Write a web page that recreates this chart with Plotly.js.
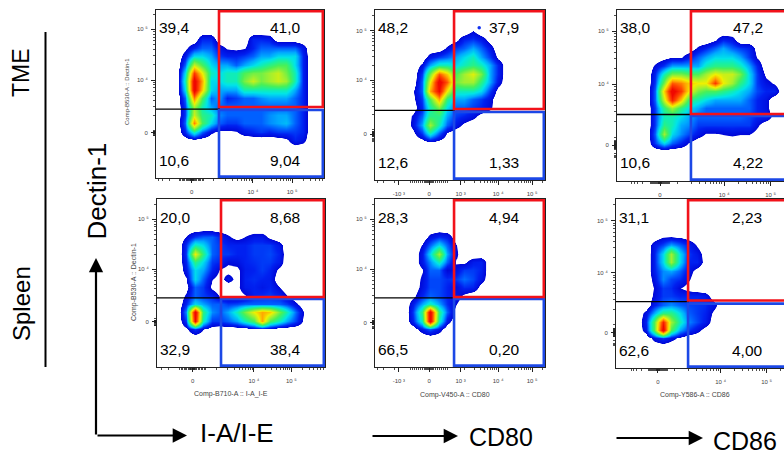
<!DOCTYPE html>
<html><head><meta charset="utf-8">
<script src="https://cdn.plot.ly/plotly-3.0.1.min.js"></script>
<style>html,body{margin:0;padding:0;background:#fff}#c{width:784px;height:456px}</style>
</head><body><div id="c"></div>
<script>
// Density grids: 20 columns x 20 rows, top row first, level 0 (no events) to 10 (peak)
const O = [0,0,0,0,0,0,0,0,0,0,0,0,0,0,0,0,0,0,0,0];
const densityTmeIA = [O,O,O,
[0,0,0,0,0,1,1,0,0,0,0,1,1,.9,0,0,0,0,0,0],
[0,0,0,.3,1,1.5,1.5,.8,.4,.3,.4,1,1.5,1.5,1.5,1.5,1.5,.8,0,0],
[0,0,0,.8,2.5,2.5,2,1.2,1,1,1.2,1.5,2,2,2.5,2.5,2.5,1,0,0],
[0,0,0,1.5,5.5,4,2.5,2,2,1.5,2,2.5,3,3.5,4,4,2.5,1,0,0],
[0,0,0,2.5,8.5,6,3,2.5,3,3,4,4.5,4.5,5,5.5,4.5,3,1,0,0],
[0,0,0,3,10,7,2.5,2.5,3,3,4.5,5.5,4.5,5,5.5,5,3,1,0,0],
[0,0,0,2.5,10,6.5,2.5,2,2,2,3,3,3,3,3,3,2,1,0,0],
[0,0,0,1.5,7.5,4,1.5,2,1,1.2,1.5,1.5,1.8,2,2,2,1.5,1,0,0],
[0,0,0,1.2,5,3,2,1.5,1.5,1.5,1.5,1.5,1.5,1.5,1.5,1.5,1.5,1,0,0],
[0,0,0,1.2,5.5,3.5,3,1.8,1.5,1.5,1.5,1.5,1.5,1.8,2,2,1.5,1,0,0],
[0,0,0,1.5,7.5,4,2.5,1.5,1.2,1.2,1.5,1.5,1.5,1.8,2,2.2,1.5,1,0,0],
[0,0,0,1,3,1.5,.6,.3,.3,.4,.8,1,1.2,1,1.2,1.2,1.2,1,0,0],
[0,0,0,.1,.2,.1,0,0,0,0,0,0,0,0,.1,.3,1,.7,0,0],
O,O,O,O];
const densityTmeCD80 = [O,O,
[0,0,0,0,0,0,0,0,0,0,0,.5,0,0,0,0,0,0,0,0],
[0,0,0,0,0,0,0,0,0,.3,1,1.2,.9,.2,0,0,0,0,0,0],
[0,0,0,0,0,0,0,0,.6,1.2,1.5,2,1.5,.8,0,0,0,0,0,0],
[0,0,0,0,0,0,.8,1.2,1.5,2,2.5,3,2,1.2,.3,0,0,0,0,0],
[0,0,0,0,0,.6,2,3,3,2.5,3,3.5,3,2,1,0,0,0,0,0],
[0,0,0,0,0,1.2,4.5,8,6.5,4,5,5.8,4.5,2,1,0,0,0,0,0],
[0,0,0,0,0,1.5,6,10,8,4.5,5,5,3.5,2,.8,0,0,0,0,0],
[0,0,0,0,.4,1.5,7,9.5,6,3,3,3,2.5,1.2,.2,0,0,0,0,0],
[0,0,0,0,.3,1.2,4,7,3.5,2,2,1.5,1.2,.7,0,0,0,0,0,0],
[0,0,0,0,.1,1,3,4.5,2.5,1.5,1.5,1.2,1,.6,0,0,0,0,0,0],
[0,0,0,0,.6,1.5,3.5,3.5,2,1.2,1,.7,.2,0,0,0,0,0,0,0],
[0,0,0,0,.7,2,5,3,1.5,.8,.3,0,0,0,0,0,0,0,0,0],
[0,0,0,0,.3,1.2,3,1.5,.4,0,0,0,0,0,0,0,0,0,0,0],
[0,0,0,0,0,.1,.4,.2,0,0,0,0,0,0,0,0,0,0,0,0],
O,O,O,O];
const densityTmeCD86 = [O,O,O,
[0,0,0,0,0,0,0,0,0,0,0,.4,1,.8,0,0,0,0,0,0],
[0,0,0,0,0,0,0,0,0,.6,1,1.5,2,1.5,1.2,1,.2,0,0,0],
[0,0,0,0,0,.2,.4,.4,.9,1.5,2,2.5,2.5,2.5,2,1.2,.4,0,0,0],
[0,0,0,0,.6,1.2,2,2,2,2,3,3.5,3.5,3.5,3,2,1,0,0,0],
[0,0,0,0,1,3,4.5,4.5,4,4,5,6,5.5,5.5,4.5,2.5,1.2,.3,0,0],
[0,0,0,0,1.2,4.5,8,7.5,6.5,6,6,8.5,6,5,3.5,2.5,1.2,.7,.4,0],
[0,0,0,0,1.5,6.5,10,8.5,6,4.5,4,4,3.5,3,2.5,2,1.3,1,1,0],
[0,0,0,0,1.5,5.5,9,6.5,3.5,3,2.5,2,2,2,2,1.5,1,.7,0,0],
[0,0,0,0,1.2,3.5,5,3.5,2.5,2,1.5,1.5,1.5,1.5,1.5,1.5,1,.7,0,0],
[0,0,0,0,1.2,3,3,2.5,2,1.5,1.5,1.5,1.5,1.5,1.5,1.3,1,.9,.2,0],
[0,0,0,0,1.2,3.5,3,2,1.8,1.2,1.2,1.2,1.2,1.2,1.2,1.2,.6,0,0,0],
[0,0,0,0,1.5,5,2.5,1.8,1.3,.8,.4,.4,.5,.6,.5,.5,.2,0,0,0],
[0,0,0,0,1.2,2.5,1.5,1,.4,0,0,0,0,0,0,0,0,0,0,0],
O,O,O,O];
const densitySpleenIA = [O,O,O,O,
[0,0,0,.5,1.2,1.5,1.5,1,.6,.2,.5,.8,.8,.3,0,0,0,0,0,0],
[0,0,0,1.1,3,2.5,1.5,1.2,1,1,1,1.2,1.2,1.2,.8,0,0,0,0,0],
[0,0,0,1.2,6,3.5,1.5,1.2,1.2,1,1,1.2,1.2,1.3,1,0,0,0,0,0],
[0,0,0,1,3.5,2.5,1.2,1,.6,.7,1,1.1,1.2,1.2,.9,0,0,0,0,0],
[0,0,0,.8,2.5,2,1,.4,.2,.3,.9,1,1.2,1,.3,0,0,0,0,0],
[0,0,0,.4,2.5,1.5,.5,.2,.8,.2,1,1.1,1,.9,0,0,0,0,0,0],
[0,0,0,.2,1.5,1.2,.3,0,0,.3,.9,1,.8,1,.5,0,0,0,0,0],
[0,0,0,.6,1.5,1.2,1,.4,.2,.2,.4,1,1.1,1.2,1,.5,0,0,0,0],
[0,0,0,1,2.5,2,1.5,1.5,1.2,1.3,1.5,1.5,1.5,1.5,1.5,1.2,.6,0,0,0],
[0,0,0,1.8,10,3.5,1.8,1.5,2,3,4.5,6,7,6.5,4.5,3,1.5,.4,0,0],
[0,0,0,1.2,9.5,3,1.2,1.2,1.5,2,3,4,7,4,3,2,1.2,.3,0,0],
[0,0,0,.3,1.2,.5,.1,0,0,0,0,.3,.4,.3,0,0,0,0,0,0],
O,O,O,O];
const densitySpleenCD80 = [O,O,O,O,
[0,0,0,0,0,0,.7,1.1,.9,.1,0,0,0,0,0,0,0,0,0,0],
[0,0,0,0,0,.5,1.5,2.5,1.5,.5,0,0,0,0,0,0,0,0,0,0],
[0,0,0,0,0,.8,2.5,5,2,.6,0,0,0,0,0,0,0,0,0,0],
[0,0,0,0,0,.8,1.8,3,1.5,.4,.3,.9,1,0,0,0,0,0,0,0],
[0,0,0,0,0,.4,1.5,1.5,.5,.7,1.2,1.2,1,0,0,0,0,0,0,0],
[0,0,0,0,0,.6,1.3,1.3,1.1,1.2,1.6,1.3,.8,0,0,0,0,0,0,0],
[0,0,0,0,0,.7,1.3,1.3,1,.6,1.1,1,.2,0,0,0,0,0,0,0],
[0,0,0,0,.3,1,1.5,1.3,1,.8,.3,0,0,0,0,0,0,0,0,0],
[0,0,0,0,.9,2,3,2,1.1,.5,0,0,0,0,0,0,0,0,0,0],
[0,0,0,0,1.2,3.5,10,3.5,1.5,.2,0,0,0,0,0,0,0,0,0,0],
[0,0,0,0,1,3,10,3,.8,0,0,0,0,0,0,0,0,0,0,0],
[0,0,0,0,.1,.8,1.5,.8,0,0,0,0,0,0,0,0,0,0,0,0],
O,O,O,O];
const densitySpleenCD86 = [O,O,O,O,
[0,0,0,0,.1,.45,.5,.4,.2,0,0,0,0,0,0,0,0,0,0,0],
[0,0,0,0,.8,1.3,2,1.5,1,.4,0,0,0,0,0,0,0,0,0,0],
[0,0,0,0,.9,2.5,5,2.5,1.2,.8,.2,0,0,0,0,0,0,0,0,0],
[0,0,0,0,.9,2.5,5,2.5,1,1,.2,0,0,0,0,0,0,0,0,0],
[0,0,0,0,.9,1.8,2,1.5,.8,.2,0,0,0,0,0,0,0,0,0,0],
[0,0,0,0,.7,1.8,1.3,1.1,.6,0,0,0,0,0,0,0,0,0,0,0],
[0,0,0,0,.5,1.2,1.1,.5,.2,0,0,0,0,0,0,0,0,0,0,0],
[0,0,0,0,.6,1.2,1.2,1,1,1,.8,.1,0,0,0,0,0,0,0,0],
[0,0,0,0,.9,1.5,1.8,1.5,1.3,1.2,1.1,.7,0,0,0,0,0,0,0,0],
[0,0,0,.7,2,3.5,3.5,2.5,1.5,1.2,1,.3,0,0,0,0,0,0,0,0],
[0,0,0,1,4,9,5,3,1.8,1.3,.9,.1,0,0,0,0,0,0,0,0],
[0,0,0,.8,4,10,4,2,1.2,.7,.2,0,0,0,0,0,0,0,0,0],
[0,0,0,0,.7,1.2,.7,.3,0,0,0,0,0,0,0,0,0,0,0,0],
O,O,O];

// Quadrant percentages: UL, UR, LL, LR
const pctTmeIA = ['39,4','41,0','10,6','9,04'];
const pctTmeCD80 = ['48,2','37,9','12,6','1,33'];
const pctTmeCD86 = ['38,0','47,2','10,6','4,22'];
const pctSpleenIA = ['20,0','8,68','32,9','38,4'];
const pctSpleenCD80 = ['28,3','4,94','66,5','0,20'];
const pctSpleenCD86 = ['31,1','2,23','62,6','4,00'];

// Display positions (0-100 of the axis) of the decade ticks
const ticksX = {
  a:{vals:[21.2,57.7,81], text:['0','10 ⁴','10 ⁵']},
  b:{vals:[14,31.8,50.4,72.4,92.4], text:['-10 ³','0','10 ³','10 ⁴','10 ⁵']},
  c:{vals:[25.3,63,90.4], text:['0','10 ⁴','10 ⁵']},
  d:{vals:[21.2,57.7,80], text:['0','10 ⁴','10 ⁵']},
  f:{vals:[24.7,61.6,88.6], text:['0','10 ⁴','10 ⁵']}
};
const yTickText = ['0','10 ⁴','10 ⁵'];

const panels = [
 {z:densityTmeIA, pct:pctTmeIA, px:[156,324,10,178], xt:ticksX.a, yv:[27,58.3,88.5], gx:37.5, gy:[42.3,41,40.5]},
 {z:densityTmeCD80, pct:pctTmeCD80, px:[375,545,10,180], xt:ticksX.b, yv:[27,58.8,88], gx:46.5, gy:[41.8,41,40]},
 {z:densityTmeCD86, pct:pctTmeCD86, px:[617,787,10,181], xt:ticksX.c, yv:[21,56.7,87.7], gx:43.5, gy:[39.2,38.9,38]},
 {z:densitySpleenIA, pct:pctSpleenIA, px:[157,325,199,367], xt:ticksX.d, yv:[27,58.3,88], gx:38.1, gy:[41.7,41.1,40.5]},
 {z:densitySpleenCD80, pct:pctSpleenCD80, px:[375,545,199,367], xt:ticksX.b, yv:[26.4,58.3,88], gx:46.5, gy:[41.7,41.1,40.5]},
 {z:densitySpleenCD86, pct:pctSpleenCD86, px:[616,786,199,368], xt:ticksX.f, yv:[20.9,56.4,87.2], gx:42.4, gy:[39.9,39.3,38.1]}
];
// Lone event above the TME CD80 population
const outlierX = [61.3], outlierY = [89.5];

const W=784,H=456, fx=p=>p/W, fy=p=>1-p/H;
const centres = O.map((_,i)=>2.5+5*i);
const centresY = O.map((_,i)=>97.5-5*i);
const scale=[[0,'#ffffff'],[.044,'#ffffff'],[.05,'#0008d8'],[.1,'#0020f0'],[.15,'#0060ff'],[.2,'#00a8ff'],[.26,'#00e4e8'],[.32,'#18f0a0'],[.4,'#48f058'],[.5,'#a0f030'],[.6,'#f0f000'],[.7,'#ffa800'],[.82,'#ff4800'],[.95,'#f00800'],[1,'#f00800']];
function minors(p0,pDec4,pDec5,hi){
  const d=pDec5-pDec4, out=[], p3=pDec4-d;
  for(let dec=-1;dec<=1;dec++) for(let k=2;k<=9;k++) out.push(pDec4+d*(dec+Math.log10(k)));
  out.push(p3);
  const s=(p3-p0);
  [.04,.08,.12,.16,.2,.3,.4,.5,.6,.7,.8,.9].forEach(f=>{out.push(p0+s*f*.6);out.push(p0-s*f*.6);});
  out.push(p0-s);
  for(let k=2;k<=4;k++) out.push(p0-s*(1+Math.log10(k)));
  return out.filter(v=>v>0.5&&v<hi);
}
const data=[],shapes=[],annotations=[],layout={};
const RED='#f2121a',BLUE='#1c48e6',BLK='#000000';
panels.forEach((p,i)=>{
  const n=i+1, xa='xaxis'+(n>1?n:''), ya='yaxis'+(n>1?n:''), xr='x'+(n>1?n:''), yr='y'+(n>1?n:'');
  const [l,r,t,b]=p.px, w=r-l, h=b-t;
  const cutR=Math.min(r,W), xMax=(cutR-l)/w*100;
  data.push({type:'heatmap',x:centres,y:centresY,z:p.z,xaxis:xr,yaxis:yr,zmin:0,zmax:10,zsmooth:'best',colorscale:scale,showscale:false,hoverinfo:'skip'});
  const xv=p.xt.vals, d5=xv[xv.length-1], d4=xv[xv.length-2], x0=xv[xv.length===5?1:0];
  const axCommon={showgrid:false,zeroline:false,showline:true,mirror:true,linecolor:'#222',linewidth:1,ticks:'outside',ticklen:4,tickwidth:1,tickcolor:'#222',tickfont:{family:'Liberation Sans',size:6,color:'#444'},tickmode:'array',fixedrange:true};
  layout[xa]=Object.assign({},axCommon,{domain:[fx(l),fx(cutR)],range:[0,xMax],anchor:yr,tickvals:xv,ticktext:p.xt.text,ticklabelstandoff:4,
    minor:{tickmode:'array',tickvals:minors(x0,d4,d5,xMax),ticks:'outside',ticklen:2,tickwidth:.8,tickcolor:'#222',showgrid:false}});
  layout[ya]=Object.assign({},axCommon,{domain:[fy(b),fy(t)],range:[0,100],anchor:xr,tickvals:p.yv,ticktext:yTickText,ticklabelstandoff:2,
    minor:{tickmode:'array',tickvals:minors(p.yv[0],p.yv[1],p.yv[2],100),ticks:'outside',ticklen:2,tickwidth:.8,tickcolor:'#222',showgrid:false}});
  const rEnd=r>W?110:99.3;
  shapes.push({type:'line',xref:xr,yref:yr,x0:0,x1:p.gx,y0:p.gy[1],y1:p.gy[1],line:{color:BLK,width:1.3}});
  shapes.push({type:'line',xref:xr,yref:yr,x0:p.gx,x1:p.gx,y0:0,y1:100,line:{color:BLK,width:1.3}});
  shapes.push({type:'rect',xref:xr,yref:yr,x0:p.gx,x1:rEnd,y0:p.gy[2],y1:.8,line:{color:BLUE,width:2.6}});
  shapes.push({type:'rect',xref:xr,yref:yr,x0:p.gx,x1:rEnd,y0:p.gy[0],y1:99.3,line:{color:RED,width:2.6}});
  const lx=[l+.5,i===0||i===3?268:(i===1||i===4?487:l+114)];
  const topY=t+18, botY=b-(i<3?18:17.5);
  [[lx[0],topY],[lx[1],topY],[lx[0]+.5,botY],[lx[1],botY]].forEach((q,k)=>{
    annotations.push({xref:'paper',yref:'paper',x:fx(q[0]),y:fy(q[1]),xanchor:'left',yanchor:'middle',showarrow:false,text:p.pct[k],font:{family:'Liberation Sans',size:15.5,color:'#000'}});
  });
});
data.push({type:'scatter',mode:'markers',x:outlierX,y:outlierY,xaxis:'x2',yaxis:'y2',marker:{color:'#1030f0',size:3.5},hoverinfo:'skip'});

// Row and axis annotation
shapes.push({type:'line',xref:'paper',yref:'paper',x0:fx(45.5),x1:fx(45.5),y0:fy(32),y1:fy(367),line:{color:'#000',width:2}});
const big=(t,x,y,a,size,col)=>annotations.push({xref:'paper',yref:'paper',x:fx(x),y:fy(y),xanchor:'center',yanchor:'middle',showarrow:false,textangle:a,text:t,font:{family:'Liberation Sans',size:size,color:col||'#000'}});
big('TME',21,73,-90,23);
big('Spleen',21,304,-90,24);
big('Dectin-1',97,191.5,-90,26);
big('I-A/I-E',237,433,0,26);
big('CD80',501,437,0,25);
big('CD86',744.5,441,0,25);
// Parameter labels
big('Comp-B530-A :: Dectin-1',127,92,-90,6,'#444');
big('Comp-B530-A :: Dectin-1',134,282,-90,7,'#444');
big('Comp-B710-A :: I-A_I-E',231.5,393.5,0,7,'#444');
big('Comp-V450-A :: CD80',455,395,0,7,'#444');
big('Comp-Y586-A :: CD86',695,395,0,7,'#444');
// Arrows: a line shape for the shaft and an annotation for the head
const arrow=(hx,hy,ax,ay)=>annotations.push({xref:'paper',yref:'paper',x:fx(hx),y:fy(hy),axref:'pixel',ayref:'pixel',ax:ax,ay:ay,showarrow:true,arrowhead:2,arrowsize:1.3,arrowwidth:2.2,arrowcolor:'#000',text:''});
arrow(96,258,0,178);
arrow(187,435.5,-91,0);
arrow(458,436,-87,0);
arrow(703,438,-88,0);

Object.assign(layout,{width:W,height:H,margin:{l:0,r:0,t:0,b:0},paper_bgcolor:'#fff',plot_bgcolor:'#fff',showlegend:false,shapes,annotations,font:{family:'Liberation Sans'}});
Plotly.newPlot('c',data,layout,{displayModeBar:false,staticPlot:true});
</script></body></html>
